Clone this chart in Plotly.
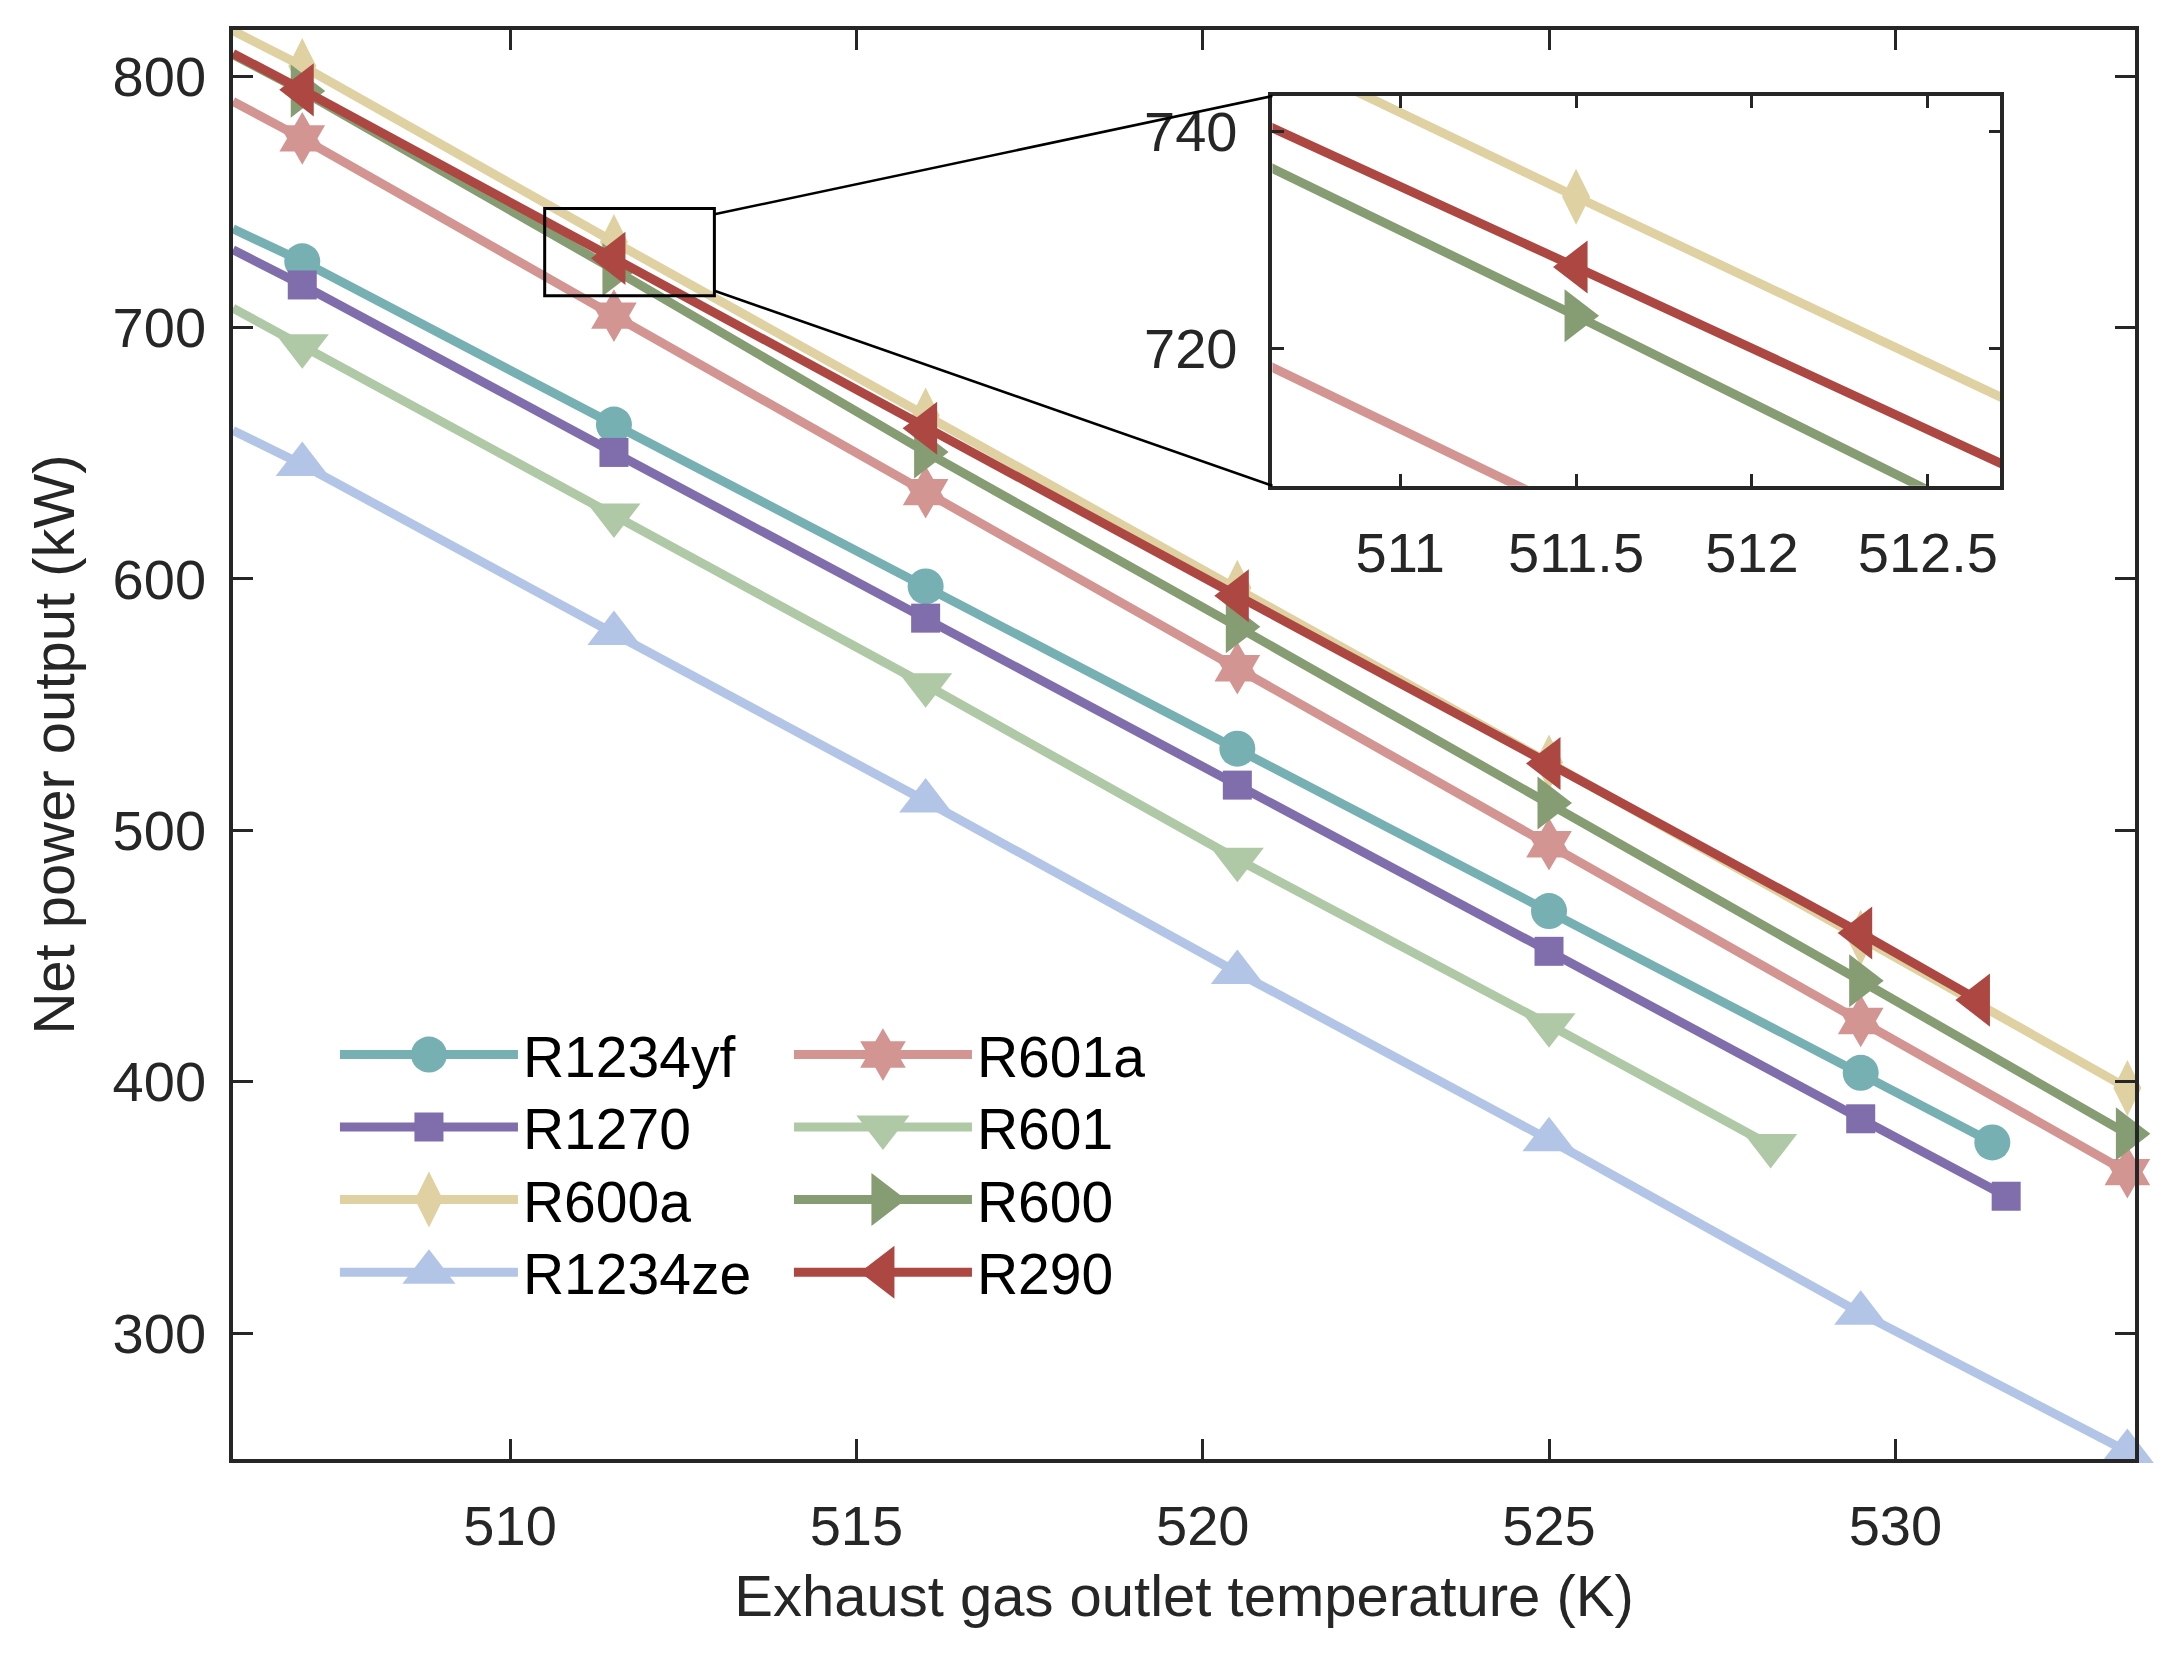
import json
import plotly.graph_objects as go

# refrigerants in plotting order (later ones are drawn on top)
names = ["R1234yf", "R1270", "R600a", "R1234ze", "R601a", "R601", "R600", "R290"]
colors = ["#76B0B3", "#806DAB", "#DFD1A1", "#B3C5E6", "#D39592", "#AFC9A6", "#869C73", "#AD4741"]
symbols = ["circle", "square", "diamond-tall", "triangle-up",
           "hexagram", "triangle-down", "triangle-right", "triangle-left"]
sizes = [36, 29, 40, 46, 40, 46, 46, 46]

# first value of every series = where the line enters at the left frame (no marker drawn there)
x_r1234yf = [506.0, 507.0, 511.5, 516.0, 520.5, 525.0, 529.5, 531.4]
y_r1234yf = [739.2, 726.3, 661.4, 597.0, 532.5, 467.9, 403.6, 375.9]
x_r1270 = [506.0, 507.0, 511.5, 516.0, 520.5, 525.0, 529.5, 531.6]
y_r1270 = [730.9, 716.9, 650.3, 584.4, 518.0, 451.9, 385.3, 354.5]
x_r600a = [506.0, 507.0, 511.5, 516.0, 520.5, 525.0, 529.5, 533.35]
y_r600a = [818.0, 804.0, 734.0, 665.0, 596.5, 527.0, 457.3, 397.5]
x_r1234ze = [506.0, 507.0, 511.5, 516.0, 520.5, 525.0, 529.5, 533.35]
y_r1234ze = [659.0, 645.5, 578.3, 511.7, 443.5, 377.0, 308.0, 253.0]
x_r601a = [506.0, 507.0, 511.5, 516.0, 520.5, 525.0, 529.5, 533.35]
y_r601a = [789.9, 775.2, 704.7, 634.5, 564.5, 494.5, 424.2, 364.1]
x_r601 = [506.0, 507.0, 511.5, 516.0, 520.5, 525.0, 528.2]
y_r601 = [707.7, 692.7, 625.4, 557.9, 488.5, 422.7, 374.7]
x_r600 = [506.0, 507.0, 511.5, 516.0, 520.5, 525.0, 529.5, 533.35]
y_r600 = [808.5, 794.0, 723.0, 650.5, 581.0, 510.9, 440.2, 379.3]
x_r290 = [506.0, 507.0, 511.5, 516.0, 520.5, 525.0, 529.5, 531.2]
y_r290 = [809.0, 794.5, 727.5, 659.9, 593.3, 526.6, 459.2, 432.5]

xs = [x_r1234yf, x_r1270, x_r600a, x_r1234ze, x_r601a, x_r601, x_r600, x_r290]
ys = [y_r1234yf, y_r1270, y_r600a, y_r1234ze, y_r601a, y_r601, y_r600, y_r290]

# axes
x_range = [506.0, 533.46]
y_range = [250.0, 818.3]
x_ticks = [510, 515, 520, 525, 530]
y_ticks = [300, 400, 500, 600, 700, 800]

# zoomed inset
inset_x_range = [510.637, 512.706]
inset_y_range = [707.3, 743.3]
inset_x_ticks = [511, 511.5, 512, 512.5]
inset_x_text = ["511", "511.5", "512", "512.5"]
inset_y_ticks = [720, 740]
inset_dom_x = [0.5465, 0.9292]
inset_dom_y = [0.6811, 0.9538]
zoom_box = dict(x0=510.5, x1=512.95, y0=712.6, y1=747.3)

# legend: two columns of four rows, one legend box per entry
legend_cols = [0.0536, 0.2923]
legend_rows = [0.2827, 0.2321, 0.1813, 0.1304]

AX = "#262626"
FONT = "Arial"

fig = go.Figure()

legend_ids = []
for i, name in enumerate(names):
    lid = "legend" if i == 0 else f"legend{i + 1}"
    legend_ids.append(lid)
    msize = [0] + [sizes[i]] * (len(xs[i]) - 1)
    mk = dict(symbol=symbols[i], size=msize, color=colors[i], opacity=1,
              line=dict(width=0))
    fig.add_trace(go.Scatter(
        x=xs[i], y=ys[i], mode="lines+markers", name=name,
        line=dict(color=colors[i], width=9), marker=mk,
        cliponaxis=False, legend=lid,
    ))
    # same curve again in the inset
    fig.add_trace(go.Scatter(
        x=xs[i], y=ys[i], mode="lines+markers", showlegend=False,
        line=dict(color=colors[i], width=9), marker=mk,
        xaxis="x2", yaxis="y2",
    ))

axis_common = dict(
    showgrid=False, zeroline=False, showline=True, linecolor=AX, linewidth=3.5,
    mirror="ticks", ticks="inside", tickcolor=AX, tickwidth=3,
    tickfont=dict(family=FONT, size=56, color=AX),
)

def to_paper_x(v):
    return (v - x_range[0]) / (x_range[1] - x_range[0])

def to_paper_y(v):
    return (v - y_range[0]) / (y_range[1] - y_range[0])

legends = {}
for i, lid in enumerate(legend_ids):
    legends[lid] = dict(
        orientation="v", bgcolor="rgba(0,0,0,0)", borderwidth=0,
        font=dict(family=FONT, size=57, color="black"),
        itemwidth=178, xanchor="left", yanchor="middle",
        x=legend_cols[i // 4], y=legend_rows[i % 4],
    )

fig.update_layout(
    width=2182, height=1666,
    margin=dict(l=233, r=47, t=30, b=207),
    paper_bgcolor="white", plot_bgcolor="white",
    xaxis=dict(range=x_range, tickvals=x_ticks, ticklen=20, ticklabelstandoff=15,
               title=dict(text="Exhaust gas outlet temperature (K)",
                          font=dict(family=FONT, size=58, color=AX), standoff=20),
               **axis_common),
    yaxis=dict(range=y_range, tickvals=y_ticks, ticklen=20, ticklabelstandoff=12,
               title=dict(text="Net power output (kW)",
                          font=dict(family=FONT, size=58, color=AX), standoff=20),
               **axis_common),
    xaxis2=dict(range=inset_x_range, domain=inset_dom_x, anchor="y2",
                tickvals=inset_x_ticks, ticktext=inset_x_text, ticklen=12,
                ticklabelstandoff=15, **axis_common),
    yaxis2=dict(range=inset_y_range, domain=inset_dom_y, anchor="x2",
                tickvals=inset_y_ticks, ticklen=12, ticklabelstandoff=20,
                **axis_common),
    showlegend=True,
    **legends,
)

# box marking the zoomed region and the two connector lines
fig.add_shape(type="rect", xref="x", yref="y", line=dict(color="black", width=3),
              **zoom_box)
fig.add_shape(type="line", xref="paper", yref="paper", line=dict(color="black", width=2.5),
              x0=to_paper_x(zoom_box["x1"]), y0=to_paper_y(745.0),
              x1=inset_dom_x[0], y1=inset_dom_y[1])
fig.add_shape(type="line", xref="paper", yref="paper", line=dict(color="black", width=2.5),
              x0=to_paper_x(zoom_box["x1"]), y0=to_paper_y(714.6),
              x1=inset_dom_x[0], y1=inset_dom_y[0])

# plotly caps legend symbols at 16 px; scale them up to the plotted marker size
scale_map = {lid: sizes[i] / 16.0 for i, lid in enumerate(legend_ids)}
post = """
document.body.style.margin = '0';
var gd = document.getElementById('{plot_id}');
var scales = %s;
function growLegendMarkers() {
  Object.keys(scales).forEach(function(lid) {
    gd.querySelectorAll('.infolayer g.' + lid + ' path.scatterpts').forEach(function(p) {
      var t = p.getAttribute('transform') || '';
      if (t.indexOf('scale') < 0) p.setAttribute('transform', t + ' scale(' + scales[lid] + ')');
    });
  });
}
growLegendMarkers();
gd.on('plotly_afterplot', growLegendMarkers);
""" % json.dumps(scale_map)

fig.write_html("out.html", post_script=post, config={"displayModeBar": False})
